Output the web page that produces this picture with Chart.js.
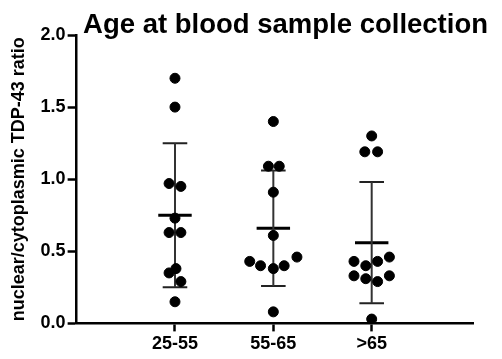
<!DOCTYPE html>
<html>
<head>
<meta charset="utf-8">
<script src="https://cdn.jsdelivr.net/npm/chart.js@4"></script>
<style>
	body { margin: 0; background: #fff; }
	#wrap { width: 502px; height: 359px; }
</style>
</head>
<body>
<div id="wrap"><canvas id="edad" width="502" height="359"></canvas></div>
<script>
const chartTitle = 'Age at blood sample collection'
const yTitle = 'nuclear/cytoplasmic TDP-43 ratio'
const categories = ['25-55', '55-65', '>65']
const yTicks = [0, 0.5, 1.0, 1.5, 2.0]

// valores por grupo y su desplazamiento horizontal
const grupo1 = [1.70, 1.50, 0.97, 0.95, 0.73, 0.63, 0.63, 0.38, 0.35, 0.29, 0.15]
const jitter1 = [0, 0, -0.06, 0.06, 0, -0.06, 0.06, 0.01, -0.06, 0.06, 0]
const grupo2 = [1.40, 1.09, 1.09, 0.91, 0.61, 0.43, 0.40, 0.38, 0.40, 0.46, 0.08]
const jitter2 = [0, -0.05, 0.06, 0, 0, -0.24, -0.13, 0, 0.11, 0.24, 0]
const grupo3 = [1.30, 1.19, 1.19, 0.43, 0.40, 0.43, 0.46, 0.33, 0.31, 0.29, 0.33, 0.03]
const jitter3 = [0, -0.07, 0.06, -0.18, -0.06, 0.06, 0.18, -0.18, -0.06, 0.06, 0.18, 0]

const medias = [0.75, 0.66, 0.56]
const desv = [0.50, 0.40, 0.42]

const fuente = "'Liberation Sans', Arial, sans-serif"

const edad = () => {
	const grupos = [grupo1, grupo2, grupo3]
	const jitters = [jitter1, jitter2, jitter3]

	const puntos = []
	grupos.forEach((g, i) => {
		g.forEach((v, j) => puntos.push({ x: i + 1 + jitters[i][j], y: v }))
	})

	const gap = (x) => ({ x: x, y: null })
	const barras = []
	const topes = []
	const lineaMedia = []
	medias.forEach((m, i) => {
		const x = i + 1
		barras.push({ x: x, y: m + desv[i] }, { x: x, y: m - desv[i] }, gap(x))
		topes.push({ x: x - 0.125, y: m + desv[i] }, { x: x + 0.125, y: m + desv[i] }, gap(x))
		topes.push({ x: x - 0.125, y: m - desv[i] }, { x: x + 0.125, y: m - desv[i] }, gap(x))
		lineaMedia.push({ x: x - 0.17, y: m }, { x: x + 0.17, y: m }, gap(x))
	})

	const linea = (data, color, ancho) => ({
		type: 'line',
		data: data,
		borderColor: color,
		borderWidth: ancho,
		pointRadius: 0,
		spanGaps: false,
		fill: false,
		order: 1
	})

	const tituloPlugin = {
		id: 'tituloPlugin',
		afterDraw(chart) {
			const ctx = chart.ctx
			ctx.save()
			ctx.font = 'bold 27.5px ' + fuente
			ctx.fillStyle = '#000'
			ctx.textAlign = 'right'
			ctx.textBaseline = 'alphabetic'
			ctx.fillText(chartTitle, chart.chartArea.right + 15, 33)
			ctx.restore()
		}
	}

	const ctx = document.getElementById('edad').getContext('2d')

	const chart = new Chart(ctx, {
		type: 'scatter',
		data: {
			datasets: [
				{
					data: puntos,
					backgroundColor: '#000',
					borderColor: '#000',
					pointRadius: 5,
					pointHoverRadius: 5,
					order: 0
				},
				linea(barras, '#333', 2),
				linea(topes, '#222', 2),
				linea(lineaMedia, '#000', 3)
			]
		},
		options: {
			responsive: false,
			animation: false,
			layout: { padding: { top: 35, left: 8, right: 29, bottom: 2 } },
			plugins: {
				legend: { display: false },
				tooltip: { enabled: false }
			},
			scales: {
				x: {
					type: 'linear',
					min: 0,
					max: 4.03,
					afterBuildTicks: (scale) => {
						scale.ticks = categories.map((c, i) => ({ value: i + 1 }))
					},
					ticks: {
						callback: (v) => categories[Math.round(v) - 1],
						color: '#000',
						font: { family: fuente, size: 18, weight: 'bold' },
						padding: 2,
						maxRotation: 0
					},
					grid: { drawOnChartArea: false, drawTicks: true, tickLength: 8, tickColor: '#000', tickWidth: 2.5 },
					border: { display: true, color: '#000', width: 2.5 }
				},
				y: {
					min: 0,
					max: 2,
					afterBuildTicks: (scale) => {
						scale.ticks = yTicks.map((v) => ({ value: v }))
					},
					ticks: {
						callback: (v) => v.toFixed(1),
						color: '#000',
						font: { family: fuente, size: 18, weight: 'bold' },
						padding: 2
					},
					grid: { drawOnChartArea: false, drawTicks: true, tickLength: 9, tickColor: '#000', tickWidth: 2.5 },
					border: { display: true, color: '#000', width: 2.5 },
					title: {
						display: true,
						text: yTitle,
						color: '#000',
						font: { family: fuente, size: 18, weight: 'bold' },
						padding: { top: 0, bottom: 9 }
					}
				}
			}
		},
		plugins: [tituloPlugin]
	})
}

window.addEventListener('load', edad)
</script>
</body>
</html>
